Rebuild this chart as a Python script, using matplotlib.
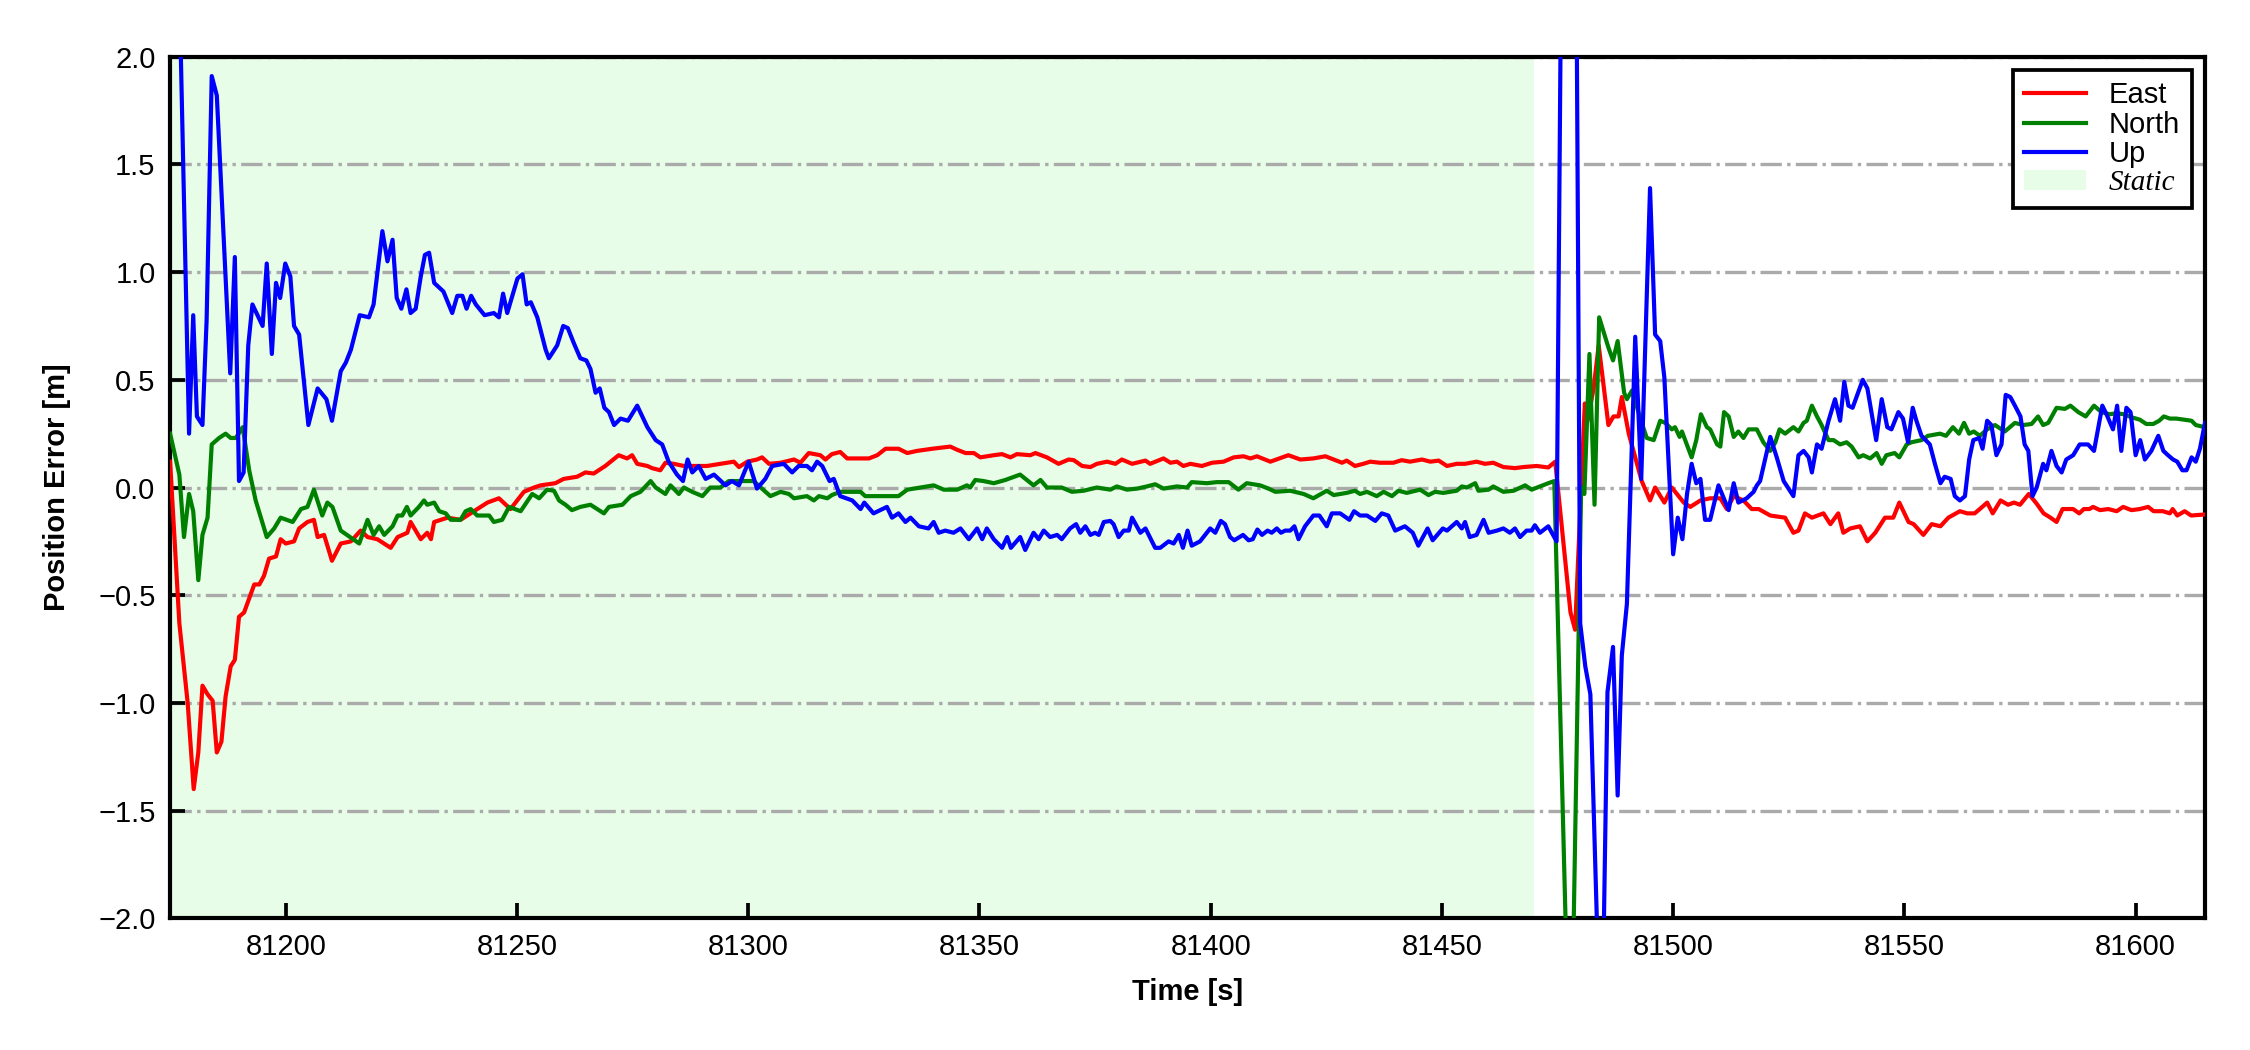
import matplotlib
matplotlib.use("Agg")
import matplotlib.pyplot as plt
from matplotlib.lines import Line2D
from matplotlib.patches import Patch
import numpy as np

# ---------------- data (time [s], error [m]) ----------------
EAST = [
    (81175, 0.12), (81177, -0.63), (81178.8, -1.00), (81180.1, -1.40), (81181.1, -1.23),
    (81182, -0.92), (81183.1, -0.96), (81184.2, -0.99), (81185.1, -1.23), (81186.1, -1.18),
    (81187, -0.97), (81188.1, -0.83), (81189, -0.80), (81189.9, -0.60), (81191, -0.58),
    (81193.2, -0.45), (81194.3, -0.45), (81195.3, -0.41), (81196.4, -0.33), (81197.9, -0.32),
    (81198.9, -0.24), (81200, -0.26), (81201.8, -0.25), (81202.9, -0.19), (81204.7, -0.16),
    (81206.1, -0.15), (81206.9, -0.23), (81208.3, -0.22), (81210, -0.34), (81211.9, -0.26),
    (81214.1, -0.25), (81216.2, -0.20), (81217.7, -0.23), (81219.8, -0.24), (81222.7, -0.28),
    (81224.2, -0.23), (81226.3, -0.21), (81227, -0.16), (81229.2, -0.24), (81230.6, -0.21),
    (81231.4, -0.24), (81232.1, -0.16), (81235, -0.14), (81237.8, -0.15), (81240.7, -0.11),
    (81243.6, -0.07), (81246.1, -0.05), (81248.6, -0.10), (81251.5, -0.02), (81253.7, 0.00),
    (81255.1, 0.01), (81258.3, 0.02), (81260.1, 0.04), (81263, 0.05), (81264.8, 0.07),
    (81266.6, 0.065), (81269.1, 0.10), (81272, 0.15), (81273.8, 0.135), (81274.9, 0.15),
    (81276, 0.11), (81278.2, 0.10), (81279.2, 0.09), (81281, 0.08), (81282.1, 0.115),
    (81283.9, 0.11), (81286.1, 0.10), (81288.2, 0.10), (81291.1, 0.10), (81294, 0.11),
    (81296.9, 0.12), (81298, 0.095), (81299.8, 0.12), (81301.9, 0.13), (81303, 0.14),
    (81304.5, 0.11), (81307, 0.115), (81309.9, 0.13), (81311.3, 0.115), (81313.1, 0.16),
    (81315.6, 0.15), (81316.7, 0.13), (81318.1, 0.155), (81319.9, 0.165), (81321.4, 0.135),
    (81326.1, 0.135), (81327.9, 0.15), (81329.7, 0.18), (81332.5, 0.18), (81334.4, 0.16),
    (81336.5, 0.17), (81339.8, 0.18), (81343.7, 0.19), (81345.2, 0.175), (81347, 0.16),
    (81348.8, 0.16), (81350.2, 0.14), (81353.1, 0.15), (81354.9, 0.155), (81356.7, 0.14),
    (81358.1, 0.155), (81361, 0.15), (81362.1, 0.16), (81364.6, 0.14), (81367.1, 0.11),
    (81369.3, 0.13), (81370.4, 0.127), (81372.2, 0.10), (81374, 0.095), (81375.4, 0.11),
    (81377.6, 0.12), (81379.4, 0.11), (81380.8, 0.13), (81383, 0.11), (81385.9, 0.125),
    (81386.9, 0.11), (81389.8, 0.135), (81391.3, 0.115), (81392.7, 0.12), (81394.1, 0.10),
    (81395.6, 0.11), (81398.1, 0.10), (81400.3, 0.115), (81402.8, 0.12), (81405, 0.14),
    (81407.1, 0.145), (81408.6, 0.135), (81410, 0.145), (81412.9, 0.12), (81416.8, 0.15),
    (81419.4, 0.13), (81422.2, 0.135), (81424.8, 0.145), (81428.4, 0.115), (81429.4, 0.125),
    (81431.2, 0.10), (81433, 0.11), (81434.5, 0.12), (81436.6, 0.115), (81439.5, 0.115),
    (81441.3, 0.127), (81443.1, 0.12), (81445.7, 0.13), (81447.5, 0.12), (81449.3, 0.125),
    (81451.1, 0.10), (81453.2, 0.11), (81455, 0.11), (81457.5, 0.12), (81459.3, 0.11),
    (81461.1, 0.115), (81463.3, 0.095), (81465.8, 0.09), (81467.6, 0.095), (81470.5, 0.10),
    (81473, 0.093), (81474.5, 0.12), (81477.8, -0.58), (81478.8, -0.66), (81480.9, 0.39),
    (81481.5, 0.31), (81482.8, 0.46), (81483.9, 0.66), (81486, 0.29), (81487.1, 0.33),
    (81488.2, 0.33), (81488.9, 0.42), (81490.4, 0.25), (81491.8, 0.14), (81493.2, 0.03),
    (81495, -0.06), (81496.1, 0.00), (81498.1, -0.07), (81499.7, 0.00), (81502.3, -0.07),
    (81503.7, -0.09), (81505.9, -0.06), (81508, -0.05), (81510.2, -0.05), (81511.6, -0.10),
    (81513.1, -0.04), (81515.2, -0.06), (81517, -0.10), (81518.5, -0.10), (81521, -0.13),
    (81524.2, -0.14), (81526, -0.21), (81527.1, -0.20), (81528.5, -0.12), (81530, -0.14),
    (81532.5, -0.12), (81534, -0.17), (81535.7, -0.12), (81536.8, -0.21), (81538.3, -0.19),
    (81540.4, -0.18), (81542, -0.25), (81543.7, -0.21), (81545.8, -0.14), (81547.6, -0.14),
    (81548.9, -0.07), (81550.9, -0.16), (81552, -0.17), (81554.1, -0.22), (81555.9, -0.17),
    (81557.8, -0.18), (81559.5, -0.14), (81562, -0.11), (81563.6, -0.12), (81565.2, -0.12),
    (81566.3, -0.10), (81567.9, -0.07), (81569.1, -0.12), (81570.8, -0.06), (81572.4, -0.08),
    (81573.7, -0.07), (81575, -0.08), (81576.9, -0.03), (81578.6, -0.075), (81580.1, -0.12),
    (81581.6, -0.14), (81582.9, -0.16), (81584.2, -0.10), (81586.5, -0.10), (81587.8, -0.12),
    (81588.8, -0.10), (81590, -0.10), (81590.8, -0.09), (81592.3, -0.105), (81594.1, -0.10),
    (81595.9, -0.11), (81597.3, -0.09), (81599.1, -0.105), (81600.9, -0.10), (81602.7, -0.09),
    (81603.9, -0.11), (81605.9, -0.11), (81607.4, -0.12), (81608, -0.10), (81609, -0.13),
    (81610.6, -0.11), (81612, -0.13), (81615, -0.125),
]

NORTH = [
    (81175, 0.25), (81177, 0.06), (81178, -0.23), (81179.1, -0.03), (81180, -0.11),
    (81181.1, -0.43), (81182, -0.22), (81183.1, -0.14), (81184, 0.20), (81185.6, 0.23),
    (81187, 0.25), (81188.1, 0.23), (81189.2, 0.23), (81190.7, 0.28), (81192.1, 0.08),
    (81193.5, -0.06), (81195.9, -0.23), (81197.5, -0.19), (81198.9, -0.14), (81201.5, -0.16),
    (81203.3, -0.10), (81204.7, -0.09), (81206.1, -0.01), (81207.9, -0.13), (81209, -0.07),
    (81210.1, -0.09), (81211.9, -0.20), (81215.9, -0.26), (81217.7, -0.15), (81219, -0.22),
    (81220.2, -0.18), (81221.3, -0.22), (81223.1, -0.18), (81224.2, -0.13), (81225.2, -0.13),
    (81226.2, -0.09), (81227, -0.13), (81228.8, -0.09), (81229.9, -0.06), (81230.6, -0.08),
    (81232.1, -0.07), (81233.2, -0.11), (81234.6, -0.12), (81235.7, -0.15), (81237.8, -0.15),
    (81238.9, -0.11), (81240, -0.10), (81241.4, -0.13), (81244, -0.13), (81245, -0.16),
    (81246.8, -0.15), (81248.3, -0.09), (81250.8, -0.11), (81253.3, -0.03), (81254.8, -0.05),
    (81256.5, -0.01), (81258, -0.015), (81259.1, -0.06), (81260.5, -0.08), (81261.9, -0.105),
    (81263.7, -0.09), (81265.9, -0.08), (81268.8, -0.12), (81269.9, -0.09), (81272.8, -0.08),
    (81274.6, -0.04), (81276.7, -0.02), (81278.9, 0.03), (81280, 0.00), (81282.1, -0.03),
    (81283.2, 0.01), (81285, -0.03), (81286.1, 0.00), (81287.9, -0.02), (81290.1, -0.04),
    (81291.8, 0.00), (81294, 0.00), (81295.8, 0.03), (81299.8, 0.03), (81301.2, 0.03),
    (81302.7, 0.00), (81304.8, -0.04), (81307, -0.02), (81308.8, -0.03), (81309.9, -0.05),
    (81312.7, -0.04), (81314.2, -0.06), (81315.3, -0.04), (81317.1, -0.05), (81318.1, -0.035),
    (81319.9, -0.02), (81324.3, -0.02), (81325.3, -0.04), (81328.2, -0.04), (81332.5, -0.04),
    (81334.4, -0.01), (81337.2, 0.00), (81340.1, 0.01), (81342.3, -0.01), (81345.2, -0.01),
    (81347.3, 0.01), (81348, 0.00), (81349.1, 0.035), (81350.9, 0.03), (81353.1, 0.02),
    (81355.6, 0.035), (81358.8, 0.06), (81361.7, 0.01), (81363.2, 0.035), (81364.6, 0.00),
    (81367.8, 0.00), (81370, -0.02), (81372.5, -0.015), (81375.4, 0.00), (81378.3, -0.01),
    (81379.7, 0.005), (81381.9, -0.01), (81384.1, -0.005), (81386.2, 0.005), (81388, 0.015),
    (81389.8, -0.005), (81392.7, 0.005), (81394.9, 0.00), (81395.9, 0.025), (81399.2, 0.02),
    (81401.3, 0.025), (81403.9, 0.025), (81406, -0.01), (81407.8, 0.02), (81410.7, 0.01),
    (81412.5, -0.005), (81414, -0.02), (81417.2, -0.015), (81420.1, -0.03), (81422.2, -0.05),
    (81425.1, -0.015), (81426.6, -0.035), (81429.4, -0.025), (81431.2, -0.015), (81432.3, -0.03),
    (81433.8, -0.02), (81435.9, -0.04), (81437.4, -0.02), (81439.2, -0.04), (81440.6, -0.015),
    (81442.4, -0.025), (81445.3, -0.01), (81447.1, -0.035), (81448.5, -0.02), (81450.3, -0.025),
    (81453.2, -0.015), (81454.3, 0.005), (81455.4, 0.00), (81457.2, 0.02), (81457.9, -0.015),
    (81460.1, -0.01), (81461.1, 0.005), (81463.3, -0.02), (81465.5, -0.015), (81466.5, -0.005),
    (81468, 0.01), (81469.4, -0.01), (81471.2, 0.005), (81473, 0.02), (81474.3, 0.03),
    (81477.8, -2.90), (81480.1, 0.00), (81480.8, -0.03), (81481.9, 0.62), (81483, -0.08),
    (81484, 0.79), (81486, 0.65), (81487, 0.59), (81488, 0.68), (81489.4, 0.44),
    (81490, 0.41), (81491.1, 0.45), (81493.2, 0.30), (81494.3, 0.23), (81495.8, 0.22),
    (81497.2, 0.31), (81498.3, 0.30), (81499.7, 0.27), (81500.4, 0.28), (81501.4, 0.235),
    (81501.9, 0.26), (81504, 0.14), (81505, 0.22), (81506, 0.34), (81507.3, 0.28),
    (81508, 0.27), (81509.5, 0.20), (81510.2, 0.19), (81511, 0.35), (81512, 0.33),
    (81513.1, 0.235), (81514.1, 0.26), (81515.2, 0.23), (81516.3, 0.27), (81518.1, 0.27),
    (81519.5, 0.21), (81521, 0.17), (81522.1, 0.21), (81523, 0.27), (81524.2, 0.25),
    (81526, 0.28), (81527.1, 0.26), (81528.2, 0.30), (81528.9, 0.31), (81530, 0.38),
    (81531.1, 0.33), (81532.1, 0.29), (81533.6, 0.22), (81534.7, 0.22), (81536.1, 0.20),
    (81537.5, 0.21), (81538.6, 0.19), (81540.1, 0.14), (81541.1, 0.15), (81542.6, 0.135),
    (81544, 0.16), (81545.1, 0.11), (81546.1, 0.15), (81547.9, 0.16), (81548.9, 0.14),
    (81550.5, 0.20), (81551.5, 0.21), (81553.7, 0.22), (81555.1, 0.24), (81557.7, 0.25),
    (81559, 0.24), (81560.5, 0.28), (81561.8, 0.25), (81562.9, 0.30), (81564, 0.25),
    (81565, 0.26), (81566.3, 0.24), (81567.9, 0.27), (81569.6, 0.29), (81571.7, 0.26),
    (81573.9, 0.30), (81575.7, 0.29), (81577.5, 0.295), (81578.9, 0.33), (81580, 0.29),
    (81581.1, 0.30), (81582.9, 0.37), (81584.7, 0.365), (81585.9, 0.38), (81587.6, 0.35),
    (81589.2, 0.33), (81591, 0.38), (81592.6, 0.35), (81594.4, 0.34), (81595.9, 0.345),
    (81597.4, 0.34), (81599.3, 0.325), (81600.9, 0.315), (81602.3, 0.295), (81603.8, 0.295),
    (81605.1, 0.31), (81606.1, 0.33), (81607.4, 0.32), (81608.8, 0.32), (81610.4, 0.315),
    (81612.1, 0.31), (81613, 0.29), (81615, 0.28),
]

UP = [
    (81175, 4.30), (81179.1, 0.25), (81180, 0.80), (81180.8, 0.33), (81182, 0.29),
    (81182.9, 0.78), (81184, 1.91), (81185.1, 1.82), (81188, 0.53), (81189, 1.07),
    (81189.9, 0.03), (81190.9, 0.07), (81191.9, 0.66), (81192.8, 0.85), (81195, 0.75),
    (81195.9, 1.04), (81197, 0.62), (81197.9, 0.95), (81198.8, 0.88), (81199.9, 1.04),
    (81201, 0.98), (81201.8, 0.75), (81202.9, 0.71), (81204.9, 0.29), (81206.9, 0.46),
    (81208.8, 0.41), (81210, 0.31), (81211.9, 0.54), (81213, 0.58), (81214.1, 0.64),
    (81216, 0.80), (81218, 0.79), (81219, 0.85), (81220.9, 1.19), (81222, 1.05),
    (81223.1, 1.15), (81224, 0.88), (81225, 0.83), (81226.1, 0.92), (81227, 0.81),
    (81228.1, 0.83), (81229.2, 0.98), (81230.1, 1.08), (81231, 1.09), (81232.1, 0.95),
    (81234.1, 0.91), (81236, 0.81), (81237.1, 0.89), (81238.2, 0.89), (81239.1, 0.83),
    (81240.1, 0.89), (81241.1, 0.85), (81243, 0.80), (81245, 0.81), (81246.1, 0.79),
    (81247, 0.90), (81247.9, 0.81), (81249, 0.89), (81250.1, 0.97), (81251.2, 0.99),
    (81252.1, 0.85), (81253, 0.86), (81254.4, 0.79), (81256.2, 0.64), (81256.9, 0.60),
    (81258.7, 0.66), (81260, 0.75), (81261, 0.74), (81262.3, 0.67), (81263.7, 0.60),
    (81265, 0.59), (81265.9, 0.55), (81267, 0.44), (81267.9, 0.46), (81268.9, 0.37),
    (81269.9, 0.35), (81271, 0.29), (81272.4, 0.32), (81274, 0.31), (81276, 0.38),
    (81277.1, 0.33), (81278.2, 0.28), (81280, 0.22), (81281.4, 0.20), (81282.8, 0.12),
    (81284.6, 0.06), (81285.9, 0.03), (81286.9, 0.13), (81287.9, 0.07), (81289.3, 0.10),
    (81290.8, 0.04), (81292.6, 0.06), (81295.1, 0.01), (81296.5, 0.03), (81298, 0.01),
    (81300.1, 0.12), (81301.9, -0.005), (81303.7, 0.04), (81305.2, 0.10), (81307.7, 0.11),
    (81309.5, 0.07), (81310.9, 0.10), (81312.7, 0.10), (81313.8, 0.08), (81314.9, 0.12),
    (81316, 0.10), (81317.6, 0.03), (81318.5, 0.04), (81319.9, -0.04), (81322.5, -0.06),
    (81324.3, -0.10), (81325.1, -0.07), (81327.1, -0.12), (81330, -0.09), (81331.1, -0.14),
    (81332.5, -0.12), (81334, -0.16), (81335.1, -0.14), (81336.9, -0.18), (81339, -0.19),
    (81340.1, -0.16), (81341.2, -0.21), (81342.6, -0.20), (81344.4, -0.21), (81345.9, -0.19),
    (81347.7, -0.24), (81349.5, -0.19), (81350.6, -0.24), (81351.6, -0.19), (81353.1, -0.24),
    (81354.9, -0.28), (81356, -0.23), (81356.8, -0.28), (81358.8, -0.23), (81359.9, -0.29),
    (81361.7, -0.21), (81362.8, -0.24), (81363.9, -0.20), (81365.3, -0.23), (81366.8, -0.22),
    (81367.8, -0.24), (81369.6, -0.19), (81370.9, -0.17), (81371.8, -0.21), (81372.9, -0.18),
    (81374, -0.22), (81375, -0.21), (81375.8, -0.22), (81376.9, -0.16), (81378.3, -0.155),
    (81379, -0.17), (81380.1, -0.23), (81381.2, -0.20), (81382.3, -0.20), (81383, -0.14),
    (81384.8, -0.21), (81385.9, -0.19), (81388, -0.28), (81389.1, -0.28), (81390.9, -0.25),
    (81392, -0.26), (81393.1, -0.22), (81394, -0.28), (81395, -0.20), (81395.9, -0.27),
    (81397.7, -0.25), (81399.9, -0.19), (81401, -0.21), (81402.2, -0.155), (81403.1, -0.17),
    (81404.2, -0.23), (81405.1, -0.245), (81407, -0.22), (81408.2, -0.245), (81409.1, -0.24),
    (81410.1, -0.195), (81411.1, -0.22), (81412.3, -0.20), (81413.2, -0.21), (81414.3, -0.19),
    (81415.2, -0.21), (81416.1, -0.20), (81417.2, -0.20), (81418.1, -0.18), (81419, -0.24),
    (81420.4, -0.18), (81422.2, -0.13), (81423.5, -0.13), (81425.1, -0.18), (81426.2, -0.12),
    (81428, -0.12), (81430, -0.15), (81431, -0.11), (81432.3, -0.13), (81433.8, -0.13),
    (81435.6, -0.155), (81437, -0.12), (81438.4, -0.13), (81439.9, -0.20), (81442, -0.18),
    (81443.7, -0.21), (81444.9, -0.27), (81446.9, -0.19), (81448, -0.245), (81450.2, -0.19),
    (81451.1, -0.20), (81453.2, -0.16), (81454.3, -0.19), (81455, -0.16), (81456, -0.23),
    (81457.5, -0.22), (81459, -0.15), (81460.1, -0.21), (81461.9, -0.20), (81463.3, -0.19),
    (81464.7, -0.21), (81465.8, -0.19), (81466.9, -0.23), (81468.3, -0.20), (81469.4, -0.20),
    (81470.1, -0.175), (81471.2, -0.21), (81473, -0.18), (81474.8, -0.25), (81476, 3.00),
    (81478, 3.50), (81479, 2.70), (81479.9, -0.63), (81481, -0.83), (81482.1, -0.96),
    (81484.5, -2.75), (81485.8, -0.95), (81487, -0.74), (81488, -1.43), (81488.9, -0.78),
    (81490, -0.54), (81491.8, 0.70), (81493.1, 0.04), (81495, 1.39), (81496.1, 0.71),
    (81497.2, 0.68), (81498.1, 0.51), (81500, -0.31), (81501, -0.14), (81502, -0.24),
    (81503, -0.03), (81504, 0.11), (81505, 0.02), (81505.9, 0.04), (81506.9, -0.15),
    (81508, -0.15), (81509.8, 0.01), (81512, -0.105), (81513.1, 0.02), (81514.1, -0.07),
    (81515.9, -0.05), (81517.4, -0.02), (81518.1, 0.01), (81518.8, 0.03), (81521, 0.235),
    (81522.4, 0.14), (81523.9, 0.03), (81526, -0.04), (81527.1, 0.15), (81528.2, 0.17),
    (81529.3, 0.14), (81530, 0.07), (81531.1, 0.20), (81532.1, 0.18), (81533.6, 0.31),
    (81535, 0.41), (81536.1, 0.31), (81537, 0.49), (81537.9, 0.38), (81538.8, 0.37),
    (81541, 0.50), (81542, 0.46), (81543.9, 0.22), (81545.1, 0.41), (81546.3, 0.28),
    (81547.2, 0.27), (81548.7, 0.35), (81549.7, 0.32), (81550.8, 0.21), (81551.8, 0.37),
    (81552.6, 0.31), (81553.7, 0.24), (81555.5, 0.20), (81556.6, 0.11), (81557.8, 0.02),
    (81558.7, 0.05), (81560, 0.04), (81560.9, -0.04), (81562, -0.06), (81563.1, -0.04),
    (81564, 0.13), (81564.9, 0.22), (81566.2, 0.23), (81566.9, 0.18), (81567.9, 0.31),
    (81568.8, 0.29), (81569.9, 0.15), (81571, 0.20), (81571.9, 0.43), (81572.9, 0.42),
    (81573.9, 0.38), (81575.1, 0.33), (81576, 0.20), (81576.8, 0.17), (81577.7, -0.04),
    (81578.6, 0.00), (81580, 0.11), (81580.7, 0.08), (81581.8, 0.17), (81582.9, 0.10),
    (81584, 0.07), (81585, 0.13), (81586.5, 0.15), (81587.9, 0.20), (81589.7, 0.20),
    (81591, 0.17), (81592.8, 0.38), (81593.7, 0.34), (81595.1, 0.27), (81596, 0.38),
    (81596.9, 0.17), (81598, 0.37), (81598.9, 0.35), (81600, 0.15), (81601, 0.22),
    (81602, 0.13), (81603.4, 0.17), (81604.9, 0.24), (81606, 0.17), (81607, 0.15),
    (81608.1, 0.13), (81609, 0.12), (81610.1, 0.08), (81611, 0.08), (81612.1, 0.14),
    (81613, 0.12), (81613.9, 0.18), (81615, 0.30),
]

STATIC_START = 81175
STATIC_END = 81470
XLIM = (81175, 81615)
YLIM = (-2.0, 2.0)
XTICKS = [81200, 81250, 81300, 81350, 81400, 81450, 81500, 81550, 81600]
YTICKS = [-2.0, -1.5, -1.0, -0.5, 0.0, 0.5, 1.0, 1.5, 2.0]
SERIES = [("East", EAST, "red"), ("North", NORTH, "green"), ("Up", UP, "blue")]

# ---------------- plot ----------------
plt.rcParams["font.family"] = ["Liberation Sans", "DejaVu Sans"]
plt.rcParams["axes.unicode_minus"] = True

fig = plt.figure(figsize=(7.5, 3.5), dpi=300)
ax = fig.add_axes([0.0756, 0.1254, 0.9044, 0.8206])

static_color = "#e8fde8"
ax.axvspan(STATIC_START, STATIC_END, color=static_color, lw=0, zorder=0)

for name, data, col in SERIES:
    t = np.array([p[0] for p in data])
    v = np.array([p[1] for p in data])
    ax.plot(t, v, color=col, lw=1.0, label=name, zorder=3)

ax.set_xlim(*XLIM)
ax.set_ylim(*YLIM)
ax.set_xticks(XTICKS)
ax.set_yticks(YTICKS)
ax.yaxis.grid(True, linestyle="-.", color="#aaaaaa", lw=0.8, zorder=1)
ax.set_axisbelow(True)
ax.tick_params(direction="in", labelsize=7, length=3.5, width=0.9)
for s in ax.spines.values():
    s.set_linewidth(1.0)

ax.set_xlabel("Time [s]", fontsize=7, fontweight="bold")
ax.set_ylabel("Position Error [m]", fontsize=7, fontweight="bold", labelpad=6.5)

handles = [Line2D([], [], color=c, lw=1.0) for _, _, c in SERIES]
handles.append(Patch(facecolor=static_color, edgecolor="none"))
labels = [n for n, _, _ in SERIES] + ["Static"]
leg = ax.legend(handles, labels, loc="upper right", fontsize=7, fancybox=False,
                framealpha=1, edgecolor="black", handlelength=2.1,
                labelspacing=0.05, borderpad=0.4, handletextpad=0.8,
                borderaxespad=0.45)
leg.get_frame().set_linewidth(0.9)
txt = leg.get_texts()[3]
txt.set_fontfamily(["Liberation Serif", "DejaVu Serif"])
txt.set_fontstyle("italic")

fig.savefig("out.png", dpi=300)
